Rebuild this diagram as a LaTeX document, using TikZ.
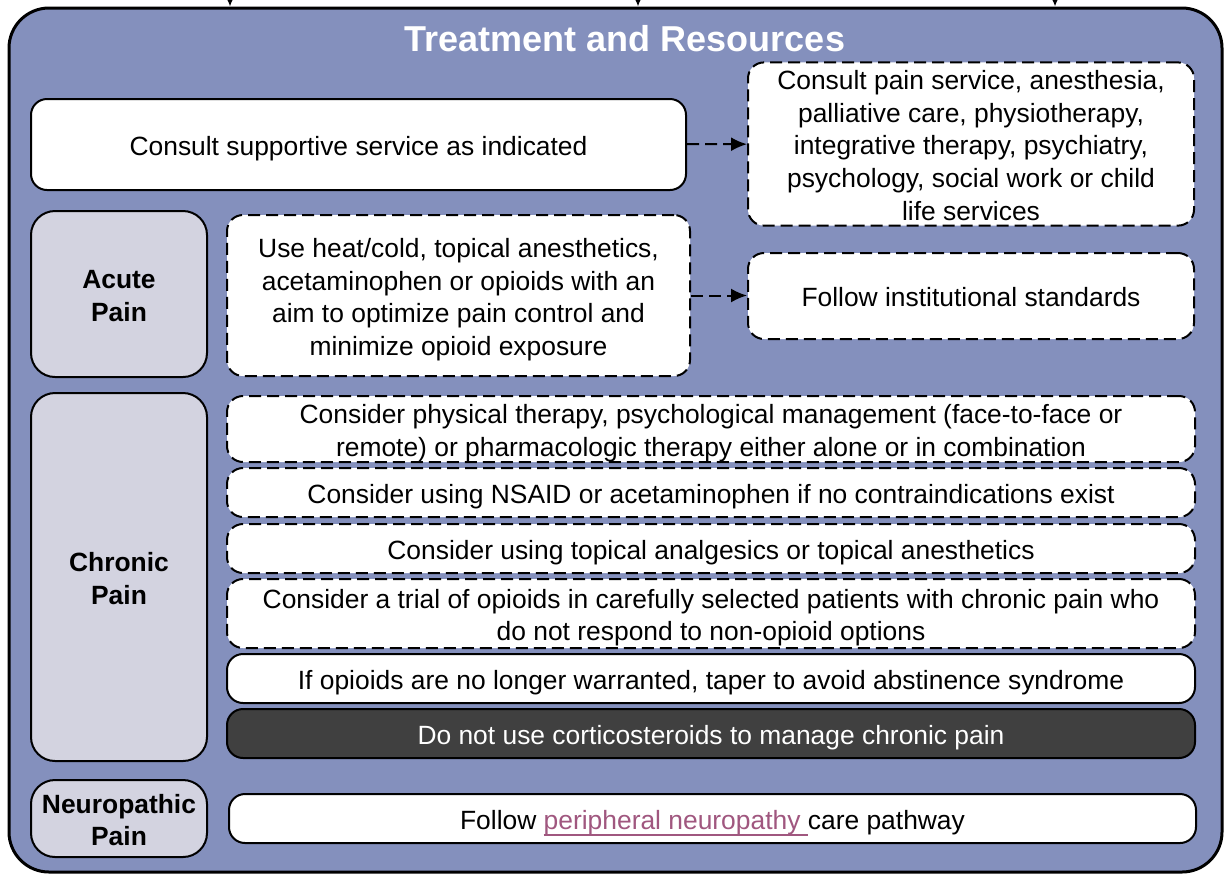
\documentclass[tikz,border=0pt]{standalone}
\usepackage{fontspec}
\setmainfont{Liberation Sans}
\usetikzlibrary{positioning, arrows.meta}
\definecolor{framebg}{HTML}{8490BD}
\definecolor{labelbg}{HTML}{D3D3E0}
\definecolor{darkbg}{HTML}{404040}
\definecolor{linkcol}{HTML}{A0577F}

% struts for the first and last text line
\newcommand{\topstrut}{\rule{0pt}{13.6pt}}
\newcommand{\botstrut}{\rule[-2.8pt]{0pt}{0pt}}
% underlined link text
\newcommand{\linktext}[1]{\textcolor{linkcol}{\setbox0\hbox{#1}\rlap{\raisebox{0pt}[0pt][0pt]{\rule[-3.3pt]{\wd0}{0.9pt}}}\box0}}

\tikzset{
  body/.style={font=\fontsize{13.2}{16.3}\selectfont, align=center, inner sep=0pt,
    execute at begin node=\topstrut, execute at end node=\botstrut},
  stepbox/.style={body, draw, line width=1pt, fill=white, rounded corners=8pt},
  dashbox/.style={stepbox, dash pattern=on 6pt off 3pt},
  darkbox/.style={stepbox, fill=darkbg, text=white},
  painlabel/.style={body, font=\fontsize{13.2}{16.3}\selectfont\bfseries, draw, line width=1pt, fill=labelbg, rounded corners=12pt},
  flow/.style={line width=1pt, dash pattern=on 6pt off 3pt, -{Latex[length=8pt,width=7pt]}},
  feed/.style={line width=0.8pt, -{Latex[length=4pt,width=3.6pt]}}
}

\begin{document}
\begin{tikzpicture}[x=0.5pt, y=-0.5pt]
        \useasboundingbox (0,0) rectangle (1225,875);

        % Frame and title
        \node[draw, line width=1.5pt, fill=framebg, rounded corners=20pt, inner sep=0pt,
              minimum width=606.5pt, minimum height=432pt] (frame) at (615.5,440) {};
        \node[font=\fontsize{18}{22}\selectfont\bfseries, text=white] (title) at (625,39) {Treatment and Resources};

        % Incoming arrows from above
        \foreach \x [count=\i] in {230,638,1055} {
          \coordinate (in\i) at (\x,-12);
          \draw[feed] (in\i) -- (in\i |- frame.north);
        }

        % Supportive services
        \node[stepbox, minimum width=327.5pt, minimum height=45.5pt] (consult) at (358.5,144.5)
          {Consult supportive service as indicated};
        \node[dashbox, minimum width=223pt, minimum height=79pt] (services) at (971,144)
          {\topstrut Consult pain service, anesthesia,\\ palliative care, physiotherapy,\\ integrative therapy, psychiatry,\\ psychology, social work or child\\ life services};

        % Acute pain
        \node[painlabel, minimum width=88pt, minimum height=83pt] (acute) at (119,294) {\topstrut Acute\\ Pain};
        \node[dashbox, minimum width=231.5pt, minimum height=80.5pt] (heat) at (458.5,295.5)
          {\topstrut Use heat/cold, topical anesthetics,\\ acetaminophen or opioids with an\\ aim to optimize pain control and\\ minimize opioid exposure};
        \node[dashbox, minimum width=223pt, minimum height=43pt] (inst) at (971,296)
          {Follow institutional standards};

        % Chronic pain
        \node[painlabel, minimum width=88pt, minimum height=184pt] (chronic) at (119,577) {\topstrut Chronic\\ Pain};
        \node[dashbox, minimum width=484pt, minimum height=33pt] (physical) at (711,429)
          {\topstrut Consider physical therapy, psychological management (face-to-face or\\ remote) or pharmacologic therapy either alone or in combination};
        \node[dashbox, minimum width=484pt, minimum height=24.5pt] (nsaid) at (711,492.5)
          {Consider using NSAID or acetaminophen if no contraindications exist};
        \node[dashbox, minimum width=484pt, minimum height=24.5pt] (topical) at (711,548.5)
          {Consider using topical analgesics or topical anesthetics};
        \node[dashbox, minimum width=484pt, minimum height=34.5pt] (trial) at (711,613.5)
          {\topstrut Consider a trial of opioids in carefully selected patients with chronic pain who\\ do not respond to non-opioid options};
        \node[stepbox, minimum width=484pt, minimum height=24.5pt] (taper) at (711,678.5)
          {If opioids are no longer warranted, taper to avoid abstinence syndrome};
        \node[darkbox, minimum width=484pt, minimum height=24.5pt] (steroid) at (711,733.5)
          {Do not use corticosteroids to manage chronic pain};

        % Neuropathic pain
        \node[painlabel, minimum width=88pt, minimum height=38.5pt] (neuro) at (119,818.5) {\topstrut Neuropathic\\ Pain};
        \node[stepbox, minimum width=483.5pt, minimum height=24.5pt] (pathway) at (712.5,818.5)
          {Follow \linktext{peripheral neuropathy\ }care pathway};

        % Dashed links
        \draw[flow] (consult) -- (services);
        \draw[flow] (heat.east) -- (heat.east -| inst.west);

      \end{tikzpicture}
\end{document}
